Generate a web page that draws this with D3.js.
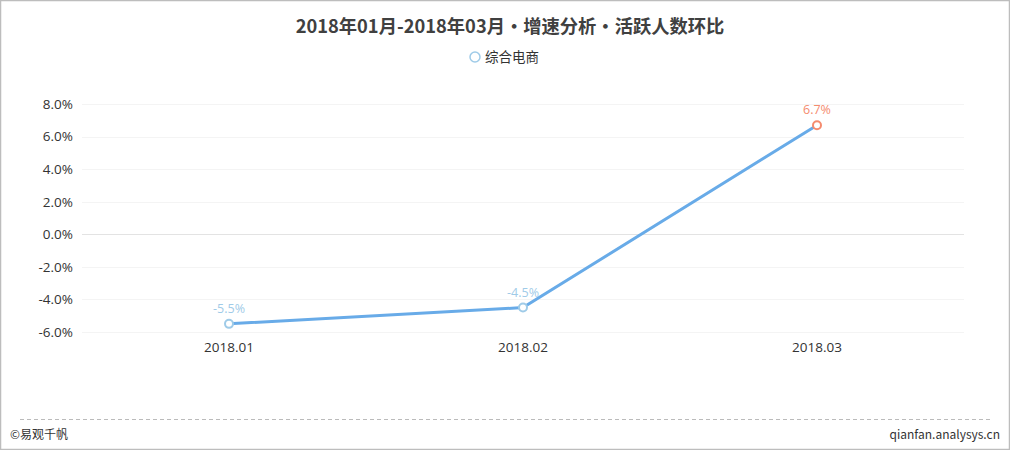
<!DOCTYPE html>
<html>
<head>
<meta charset="utf-8">
<script src="https://cdn.jsdelivr.net/npm/d3@7"></script>
<style>
  body { margin: 0; background: #fff; }
  svg { display: block; font-family: "Noto Sans CJK SC", "Open Sans", sans-serif; }
</style>
</head>
<body>
<svg width="1010" height="450"></svg>
<script>
// data gelezen uit de grafiek
const months = ['2018.01', '2018.02', '2018.03']
const growth = [-5.5, -4.5, 6.7]
const yTicks = [-6, -4, -2, 0, 2, 4, 6, 8]
const seriesName = '综合电商'
const title = '2018年01月-2018年03月•增速分析•活跃人数环比'

const svg = d3.select('svg')
const width = +svg.attr('width')
const height = +svg.attr('height')

const margin = {top: 104, right: 46, bottom: 118, left: 82}
const innerWidth = width - margin.left - margin.right
const innerHeight = height - margin.top - margin.bottom

// procent met een gewoon minteken
const pct = d => (d < 0 ? '-' : '') + Math.abs(d).toFixed(1) + '%'

// rand om de hele figuur
svg.append('rect')
    .attr('x', 0.5).attr('y', 0.5)
    .attr('width', width - 1).attr('height', height - 1)
    .attr('fill', 'none')
    .attr('stroke', '#bdbdbd')
    .attr('stroke-width', 1.5)

svg.append('text')
    .attr('x', width / 2 + 5).attr('y', 33)
    .attr('text-anchor', 'middle')
    .attr('font-size', 18.3)
    .attr('font-weight', 'bold')
    .attr('fill', '#404040')
    .text(title)

// legenda
const legend = svg.append('g').attr('transform', `translate(${width / 2 - 30}, 57)`)
legend.append('circle')
    .attr('cx', 0).attr('cy', 0).attr('r', 5)
    .attr('fill', '#fff').attr('stroke', '#9fcbe8').attr('stroke-width', 1.5)
legend.append('text')
    .attr('x', 10).attr('y', 4.5)
    .attr('font-size', 13.5)
    .attr('fill', '#333')
    .text(seriesName)

const xscale = d3.scaleBand()
    .domain(months)
    .range([0, innerWidth])

const yscale = d3.scaleLinear()
    .domain([-6, 8])
    .range([innerHeight, 0])

const g = svg.append('g')
    .attr('transform', `translate(${margin.left}, ${margin.top})`)

// gridlijnen
g.selectAll('.grid').data(yTicks)
    .enter()
    .append('line')
        .attr('x1', 0).attr('x2', innerWidth)
        .attr('y1', d => Math.round(yscale(d)) + 0.5)
        .attr('y2', d => Math.round(yscale(d)) + 0.5)
        .attr('stroke', d => d === 0 ? '#e3e3e3' : '#f4f4f4')
        .attr('stroke-width', 1)

// y-as labels
const yAxis = d3.axisLeft(yscale)
    .tickValues(yTicks)
    .tickFormat(pct)
    .tickSize(0)
    .tickPadding(9)

g.append('g').call(yAxis)
    .call(a => a.select('.domain').remove())
    .selectAll('text')
        .attr('font-size', 13.5)
        .attr('fill', '#333')
        .attr('font-family', '"Open Sans", sans-serif')

const xAxis = d3.axisBottom(xscale).tickSize(0).tickPadding(10)
g.append('g').call(xAxis)
    .attr('transform', `translate(0, ${innerHeight})`)
    .call(a => a.select('.domain').remove())
    .selectAll('text')
        .attr('font-size', 13.5)
        .attr('fill', '#333')
        .attr('font-family', '"Open Sans", sans-serif')

const data = months.map((m, i) => ({key: m, value: growth[i]}))
const xValue = d => xscale(d.key) + xscale.bandwidth() / 2
const yValue = d => yscale(d.value)
const pointColor = d => d.value >= 0 ? '#f58b6e' : '#9fcbe8'

const line = d3.line().x(xValue).y(yValue)

g.append('path')
    .datum(data)
    .attr('d', line)
    .attr('fill', 'none')
    .attr('stroke', '#68abe8')
    .attr('stroke-width', 3)

g.selectAll('circle').data(data)
    .enter()
    .append('circle')
        .attr('cx', xValue)
        .attr('cy', yValue)
        .attr('r', 4)
        .attr('fill', '#fff')
        .attr('stroke', pointColor)
        .attr('stroke-width', 2)

g.selectAll('.label').data(data)
    .enter()
    .append('text')
        .attr('x', xValue)
        .attr('y', d => yValue(d) - 11)
        .attr('text-anchor', 'middle')
        .attr('font-size', 12.5)
        .attr('font-family', '"Open Sans", sans-serif')
        .attr('fill', pointColor)
        .text(d => pct(d.value))

// voettekst
svg.append('line')
    .attr('x1', 20).attr('x2', 990)
    .attr('y1', 419.5).attr('y2', 419.5)
    .attr('stroke', '#bbb')
    .attr('stroke-dasharray', '4,3')

svg.append('text')
    .attr('x', 10).attr('y', 439)
    .attr('font-size', 12)
    .attr('fill', '#333')
    .text('©易观千帆')

svg.append('text')
    .attr('x', 1000).attr('y', 439)
    .attr('text-anchor', 'end')
    .attr('font-size', 12)
    .attr('fill', '#333')
    .text('qianfan.analysys.cn')
</script>
</body>
</html>
